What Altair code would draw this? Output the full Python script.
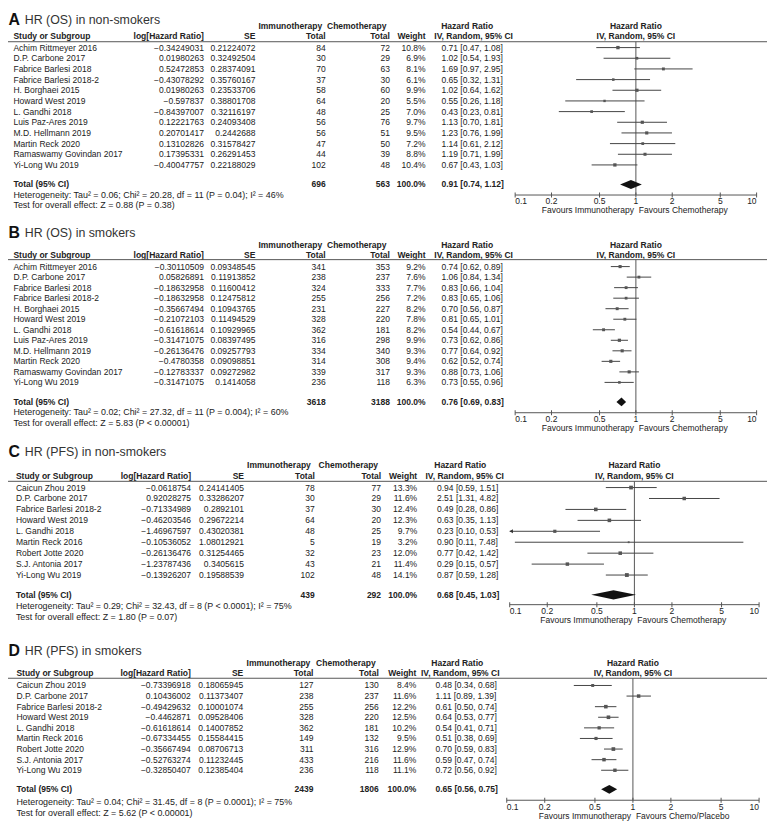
import altair as alt
import pandas as pd

# ---------------- data ----------------
A_studies = ["Achim Rittmeyer 2016", "D.P. Carbone 2017", "Fabrice Barlesi 2018", "Fabrice Barlesi 2018-2",
             "H. Borghaei 2015", "Howard West 2019", "L. Gandhi 2018", "Luis Paz-Ares 2019",
             "M.D. Hellmann 2019", "Martin Reck 2020", "Ramaswamy Govindan 2017", "Yi-Long Wu 2019"]
A_loghr = [-0.34249031, 0.01980263, 0.52472853, -0.43078292, 0.01980263, -0.597837, -0.84397007,
           0.12221763, 0.20701417, 0.13102826, 0.17395331, -0.40047757]
A_se = [0.21224072, 0.32492504, 0.28374091, 0.35760167, 0.23533706, 0.38801708, 0.32116197,
        0.24093408, 0.2442688, 0.31578427, 0.26291453, 0.22188029]
A_imm = [84, 30, 70, 37, 58, 64, 48, 56, 56, 47, 44, 102]
A_chemo = [72, 29, 63, 30, 60, 20, 25, 76, 51, 50, 39, 48]
A_weight = [10.8, 6.9, 8.1, 6.1, 9.9, 5.5, 7.0, 9.7, 9.5, 7.2, 8.8, 10.4]
A_hr = [0.71, 1.02, 1.69, 0.65, 1.02, 0.55, 0.43, 1.13, 1.23, 1.14, 1.19, 0.67]
A_lo = [0.47, 0.54, 0.97, 0.32, 0.64, 0.26, 0.23, 0.70, 0.76, 0.61, 0.71, 0.43]
A_hi = [1.08, 1.93, 2.95, 1.31, 1.62, 1.18, 0.81, 1.81, 1.99, 2.12, 1.99, 1.03]
A_total = [696, 563, 0.91, 0.74, 1.12]
A_het = "Heterogeneity: Tau² = 0.06; Chi² = 20.28, df = 11 (P = 0.04); I² = 46%"
A_test = "Test for overall effect: Z = 0.88 (P = 0.38)"

B_studies = A_studies
B_loghr = [-0.30110509, 0.05826891, -0.18632958, -0.18632958, -0.35667494, -0.21072103, -0.61618614,
           -0.31471075, -0.26136476, -0.4780358, -0.12783337, -0.31471075]
B_se = [0.09348545, 0.11913852, 0.11600412, 0.12475812, 0.10943765, 0.11494529, 0.10929965,
        0.08397495, 0.09257793, 0.09098851, 0.09272982, 0.1414058]
B_imm = [341, 238, 324, 255, 231, 328, 362, 316, 334, 314, 339, 236]
B_chemo = [353, 237, 333, 256, 227, 220, 181, 298, 340, 308, 317, 118]
B_weight = [9.2, 7.6, 7.7, 7.2, 8.2, 7.8, 8.2, 9.9, 9.3, 9.4, 9.3, 6.3]
B_hr = [0.74, 1.06, 0.83, 0.83, 0.70, 0.81, 0.54, 0.73, 0.77, 0.62, 0.88, 0.73]
B_lo = [0.62, 0.84, 0.66, 0.65, 0.56, 0.65, 0.44, 0.62, 0.64, 0.52, 0.73, 0.55]
B_hi = [0.89, 1.34, 1.04, 1.06, 0.87, 1.01, 0.67, 0.86, 0.92, 0.74, 1.06, 0.96]
B_total = [3618, 3188, 0.76, 0.69, 0.83]
B_het = "Heterogeneity: Tau² = 0.02; Chi² = 27.32, df = 11 (P = 0.004); I² = 60%"
B_test = "Test for overall effect: Z = 5.83 (P < 0.00001)"

C_studies = ["Caicun Zhou 2019", "D.P. Carbone 2017", "Fabrice Barlesi 2018-2", "Howard West 2019",
             "L. Gandhi 2018", "Martin Reck 2016", "Robert Jotte 2020", "S.J. Antonia 2017", "Yi-Long Wu 2019"]
C_loghr = [-0.0618754, 0.92028275, -0.71334989, -0.46203546, -1.46967597, -0.10536052, -0.26136476,
           -1.23787436, -0.13926207]
C_se = [0.24141405, 0.33286207, 0.2892101, 0.29672214, 0.43020381, 1.08012921, 0.31254465,
        0.3405615, 0.19588539]
C_imm = [78, 30, 37, 64, 48, 5, 32, 43, 102]
C_chemo = [77, 29, 30, 20, 25, 19, 23, 21, 48]
C_weight = [13.3, 11.6, 12.4, 12.3, 9.7, 3.2, 12.0, 11.4, 14.1]
C_hr = [0.94, 2.51, 0.49, 0.63, 0.23, 0.90, 0.77, 0.29, 0.87]
C_lo = [0.59, 1.31, 0.28, 0.35, 0.10, 0.11, 0.42, 0.15, 0.59]
C_hi = [1.51, 4.82, 0.86, 1.13, 0.53, 7.48, 1.42, 0.57, 1.28]
C_total = [439, 292, 0.68, 0.45, 1.03]
C_het = "Heterogeneity: Tau² = 0.29; Chi² = 32.43, df = 8 (P < 0.0001); I² = 75%"
C_test = "Test for overall effect: Z = 1.80 (P = 0.07)"

D_studies = C_studies
D_loghr = [-0.73396918, 0.10436002, -0.49429632, -0.4462871, -0.61618614, -0.67334455, -0.35667494,
           -0.52763274, -0.32850407]
D_se = [0.18065945, 0.11373407, 0.10001074, 0.09528406, 0.14007852, 0.15584415, 0.08706713,
        0.11232445, 0.12385404]
D_imm = [127, 238, 255, 328, 362, 149, 311, 433, 236]
D_chemo = [130, 237, 256, 220, 181, 132, 316, 216, 118]
D_weight = [8.4, 11.6, 12.2, 12.5, 10.2, 9.5, 12.9, 11.6, 11.1]
D_hr = [0.48, 1.11, 0.61, 0.64, 0.54, 0.51, 0.70, 0.59, 0.72]
D_lo = [0.34, 0.89, 0.50, 0.53, 0.41, 0.38, 0.59, 0.47, 0.56]
D_hi = [0.68, 1.39, 0.74, 0.77, 0.71, 0.69, 0.83, 0.74, 0.92]
D_total = [2439, 1806, 0.65, 0.56, 0.75]
D_het = "Heterogeneity: Tau² = 0.04; Chi² = 31.45, df = 8 (P = 0.0001); I² = 75%"
D_test = "Test for overall effect: Z = 5.62 (P < 0.00001)"

tick_values = [0.1, 0.2, 0.5, 1, 2, 5, 10]
tick_labels = ["0.1", "0.2", "0.5", "1", "2", "5", "10"]

# ---------------- layout ----------------
OFF = 8
FONT = "Liberation Sans"
FS = 8.6
TXT = "#222222"
LINE = "#555555"

cols_AB = dict(study=13.5, log=206, se=258, imm=329, chemo=394, weight=430, hr=446,
               imm_h=325.5, chemo_h=390.5, hrh=472, ivh=478.5)
cols_C = dict(study=16, log=193, se=246.5, imm=318, chemo=385, weight=421.5, hr=441.5,
              imm_h=314, chemo_h=382, hrh=465, ivh=469.5)
cols_D = dict(study=16.5, log=192.7, se=245.7, imm=316.7, chemo=382.7, weight=420.7, hr=440,
              imm_h=313.5, chemo_h=379.5, hrh=462, ivh=465)

panels = [
    dict(letter="A", title="HR (OS) in non-smokers", studies=A_studies, loghr=A_loghr, se=A_se, imm=A_imm,
         chemo=A_chemo, weight=A_weight, hr=A_hr, lo=A_lo, hi=A_hi, total=A_total, het=A_het, test=A_test,
         fav="Favours Chemotherapy", y0=43.7, dy=10.78, xl=520.5, xr=764.5, cols=cols_AB,
         r_title=-2.62, r_h1=-2.0, r_h2=-1.05, r_line=-0.55, r_total=1.83, r_het=2.85, r_test=3.78, r_axis=2.82),
    dict(letter="B", title="HR (OS) in smokers", studies=B_studies, loghr=B_loghr, se=B_se, imm=B_imm,
         chemo=B_chemo, weight=B_weight, hr=B_hr, lo=B_lo, hi=B_hi, total=B_total, het=B_het, test=B_test,
         fav="Favours Chemotherapy", y0=265, dy=10.64, xl=520.5, xr=764.5, cols=cols_AB,
         r_title=-3.2, r_h1=-2.07, r_h2=-1.13, r_line=-0.66, r_total=1.85, r_het=2.82, r_test=3.85, r_axis=2.88),
    dict(letter="C", title="HR (PFS) in non-smokers", studies=C_studies, loghr=C_loghr, se=C_se, imm=C_imm,
         chemo=C_chemo, weight=C_weight, hr=C_hr, lo=C_lo, hi=C_hi, total=C_total, het=C_het, test=C_test,
         fav="Favours Chemotherapy", y0=488.3, dy=11.05, xl=515, xr=767, cols=cols_C,
         r_title=-3.28, r_h1=-2.02, r_h2=-1.02, r_line=-0.57, r_total=1.81, r_het=2.8, r_test=3.86, r_axis=2.71),
    dict(letter="D", title="HR (PFS) in smokers", studies=D_studies, loghr=D_loghr, se=D_se, imm=D_imm,
         chemo=D_chemo, weight=D_weight, hr=D_hr, lo=D_lo, hi=D_hi, total=D_total, het=D_het, test=D_test,
         fav="Favours Chemo/Placebo", y0=688.3, dy=10.71, xl=512, xr=767, cols=cols_D,
         r_title=-3.27, r_h1=-2.15, r_h2=-1.13, r_line=-0.68, r_total=1.8, r_het=2.96, r_test=3.99, r_axis=2.83),
]


def yscale(p):
    n = len(p["studies"])
    return alt.Scale(domain=[0, n - 1], range=[p["y0"] - OFF, p["y0"] - OFF + (n - 1) * p["dy"]],
                     zero=False, nice=False)


def xscale(p):
    return alt.Scale(type="log", domain=[0.1, 10], range=[p["xl"] - OFF, p["xr"] - OFF],
                     nice=False, clamp=True)


def ydat(p, row):
    return alt.YDatum(row, type="quantitative", scale=yscale(p), axis=None)


def xdat(p, v):
    return alt.XDatum(v, type="quantitative", scale=xscale(p), axis=None)


def txt(p, text, row, x=None, xv=None, align="left", bold=False, size=FS, color=TXT, font=FONT, dx=0, dy=0):
    enc = dict(text="t:N", y=ydat(p, row))
    enc["x"] = alt.value(x - OFF) if xv is None else xdat(p, xv)
    return alt.Chart(pd.DataFrame({"t": [text]})).mark_text(
        align=align, baseline="middle", fontSize=size, fontWeight="bold" if bold else "normal",
        font=font, color=color, dx=dx, dy=dy).encode(**enc)


def fmt_num(v):
    return repr(v).replace("-", "\u2212")


def panel_layers(p):
    c = p["cols"]
    n = len(p["studies"])
    last = n - 1
    ys = yscale(p)
    xs = xscale(p)
    df = pd.DataFrame({
        "row": list(range(n)),
        "study": p["studies"],
        "log_s": [fmt_num(v) for v in p["loghr"]],
        "se_s": [repr(v) for v in p["se"]],
        "imm": [str(v) for v in p["imm"]],
        "chemo": [str(v) for v in p["chemo"]],
        "w_s": [f"{w:.1f}%" for w in p["weight"]],
        "hr_s": [f"{h:.2f} [{l:.2f}, {u:.2f}]" for h, l, u in zip(p["hr"], p["lo"], p["hi"])],
        "hr": p["hr"], "lo": p["lo"], "hi": p["hi"], "w": p["weight"],
    })
    L = []
    # titles
    L.append(txt(p, p["letter"], p["r_title"], x=8.5, bold=True, size=16, color="#111111"))
    L.append(txt(p, p["title"], p["r_title"], x=25, size=12.5, color="#333333"))
    # header row 1
    L.append(txt(p, "Immunotherapy", p["r_h1"], x=c["imm_h"], align="right", bold=True))
    L.append(txt(p, "Chemotherapy", p["r_h1"], x=c["chemo_h"], align="right", bold=True))
    L.append(txt(p, "Hazard Ratio", p["r_h1"], x=c["hrh"], align="center", bold=True))
    L.append(txt(p, "Hazard Ratio", p["r_h1"], xv=1, align="center", bold=True))
    # header row 2
    L.append(txt(p, "Study or Subgroup", p["r_h2"], x=c["study"], bold=True))
    L.append(txt(p, "log[Hazard Ratio]", p["r_h2"], x=c["log"], align="right", bold=True))
    L.append(txt(p, "SE", p["r_h2"], x=c["se"], align="right", bold=True))
    L.append(txt(p, "Total", p["r_h2"], x=c["imm"], align="right", bold=True))
    L.append(txt(p, "Total", p["r_h2"], x=c["chemo"], align="right", bold=True))
    L.append(txt(p, "Weight", p["r_h2"], x=c["weight"], align="right", bold=True))
    L.append(txt(p, "IV, Random, 95% CI", p["r_h2"], x=c["ivh"], align="center", bold=True))
    L.append(txt(p, "IV, Random, 95% CI", p["r_h2"], xv=1, align="center", bold=True))
    # header line
    L.append(alt.Chart(pd.DataFrame({"t": [0]})).mark_rule(color=LINE, strokeWidth=1).encode(
        x=alt.value(0), x2=alt.value(775 - OFF), y=ydat(p, p["r_line"])))

    # table columns
    def col(field, x, align):
        return alt.Chart(df).mark_text(align=align, baseline="middle", fontSize=FS, font=FONT, color=TXT).encode(
            text=f"{field}:N", x=alt.value(x - OFF), y=alt.Y("row:Q", scale=ys, axis=None))
    L.append(col("study", c["study"], "left"))
    L.append(col("log_s", c["log"], "right"))
    L.append(col("se_s", c["se"], "right"))
    L.append(col("imm", c["imm"], "right"))
    L.append(col("chemo", c["chemo"], "right"))
    L.append(col("w_s", c["weight"], "right"))
    L.append(col("hr_s", c["hr"], "left"))
    # total row
    t = p["total"]
    rt = last + p["r_total"]
    L.append(txt(p, "Total (95% CI)", rt, x=c["study"], bold=True))
    L.append(txt(p, str(t[0]), rt, x=c["imm"], align="right", bold=True))
    L.append(txt(p, str(t[1]), rt, x=c["chemo"], align="right", bold=True))
    L.append(txt(p, "100.0%", rt, x=c["weight"], align="right", bold=True))
    L.append(txt(p, f"{t[2]:.2f} [{t[3]:.2f}, {t[4]:.2f}]", rt, x=c["hr"], bold=True))
    L.append(txt(p, p["het"], last + p["r_het"], x=c["study"], size=9))
    L.append(txt(p, p["test"], last + p["r_test"], x=c["study"], size=9))
    # forest: reference line at 1
    ra = last + p["r_axis"]
    L.append(alt.Chart(pd.DataFrame({"t": [0]})).mark_rule(color=LINE, strokeWidth=1).encode(
        x=xdat(p, 1), y=ydat(p, p["r_line"]), y2=alt.Y2Datum(ra)))
    # CI lines
    L.append(alt.Chart(df).mark_rule(color="#444444", strokeWidth=1).encode(
        x=alt.X("lo:Q", scale=xs, axis=None), x2="hi:Q", y=alt.Y("row:Q", scale=ys, axis=None)))
    # squares
    L.append(alt.Chart(df).mark_square(color="#555555", opacity=1).encode(
        x=alt.X("hr:Q", scale=xs, axis=None), y=alt.Y("row:Q", scale=ys, axis=None),
        size=alt.Size("w:Q", scale=alt.Scale(domain=[0, 15], range=[0, 16]), legend=None)))
    # arrow for clipped lower limits
    L.append(alt.Chart(df).transform_filter("datum.lo <= 0.1").mark_point(
        shape="triangle-left", filled=True, size=16, color="#333333", opacity=1, xOffset=1.5).encode(
        x=alt.X("lo:Q", scale=xs, axis=None), y=alt.Y("row:Q", scale=ys, axis=None)))
    # diamond for pooled estimate
    h = 0.42
    dd = pd.DataFrame({"x": [t[3], t[2], t[4]], "y": [rt, rt - h, rt], "y2": [rt, rt + h, rt]})
    L.append(alt.Chart(dd).mark_area(color="#111111", orient="vertical", opacity=1).encode(
        x=alt.X("x:Q", scale=xs, axis=None), y=alt.Y("y:Q", scale=ys, axis=None), y2="y2:Q"))
    # axis line, ticks, labels
    L.append(alt.Chart(pd.DataFrame({"t": [0]})).mark_rule(color=LINE, strokeWidth=1).encode(
        x=xdat(p, 0.1), x2=alt.X2Datum(10), y=ydat(p, ra)))
    tdf = pd.DataFrame({"v": tick_values, "lab": tick_labels})
    L.append(alt.Chart(tdf).mark_tick(orient="vertical", size=5, thickness=1, color=LINE, opacity=1).encode(
        x=alt.X("v:Q", scale=xs, axis=None), y=ydat(p, ra)))
    for cond, al in [("datum.v == 0.1", "left"), ("datum.v > 0.1 && datum.v < 10", "center"),
                     ("datum.v == 10", "right")]:
        L.append(alt.Chart(tdf).transform_filter(cond).mark_text(
            align=al, baseline="middle", fontSize=FS, font=FONT, color=TXT, dy=6.5).encode(
            text="lab:N", x=alt.X("v:Q", scale=xs, axis=None), y=ydat(p, ra)))
    L.append(txt(p, "Favours Immunotherapy", ra, xv=1, align="right", dx=-2, dy=15.5))
    L.append(txt(p, p["fav"], ra, xv=1, align="left", dx=3, dy=15.5))
    return L


layers = []
for p in panels:
    layers += panel_layers(p)

chart = alt.layer(*layers).resolve_scale(x="independent", y="independent").properties(
    width=767, height=818, padding=0, autosize=alt.AutoSizeParams(type="none"),
    background="white").configure_view(stroke=None)

chart.save("out.html", embed_options={"renderer": "svg", "actions": False})
